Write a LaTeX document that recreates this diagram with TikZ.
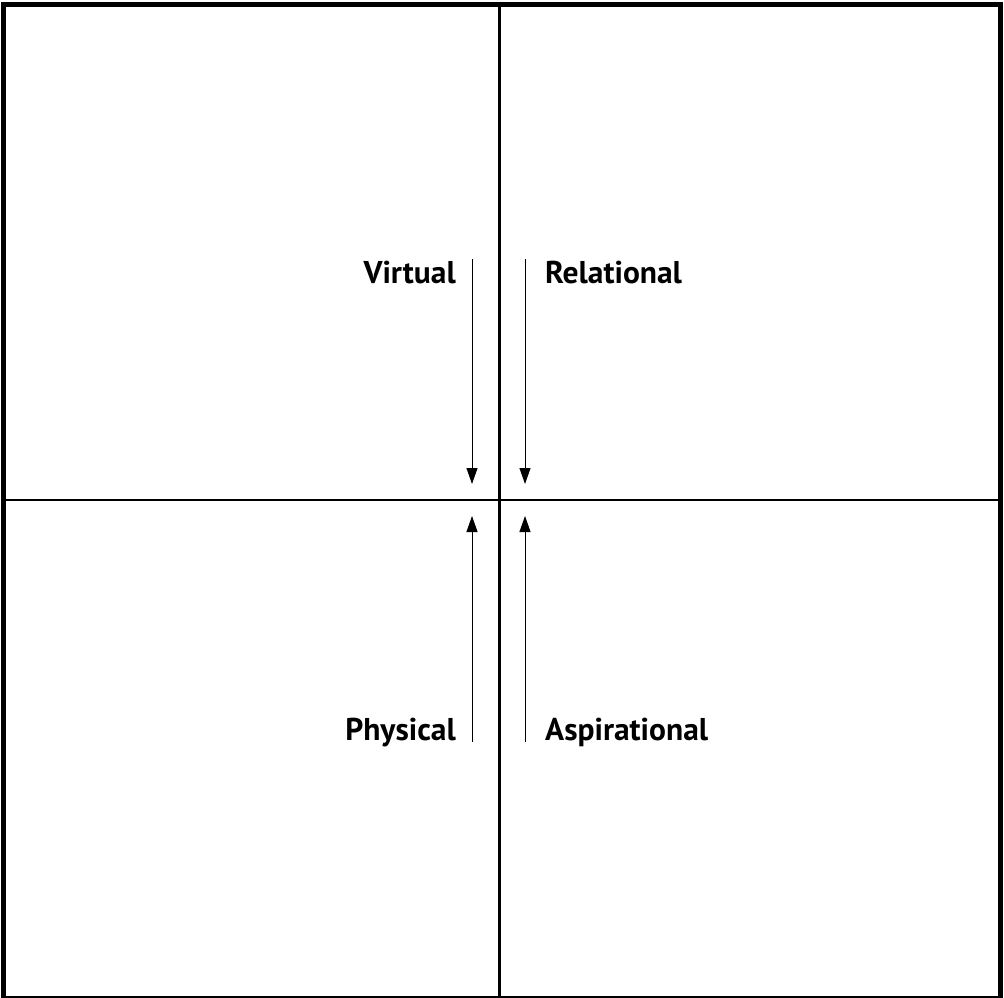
\documentclass[tikz,border=0pt]{standalone}
\usepackage{fontspec}
\setmainfont{PT Sans}
\usetikzlibrary{arrows.meta}
\begin{document}
\begin{tikzpicture}[x=1pt,y=-1pt,
  lbl/.style={font=\bfseries\fontsize{31.5}{34}\selectfont, inner sep=0pt},
  arr/.style={line width=1pt, -{Triangle[length=16pt,width=11pt]}},
  frame/.style={line width=5pt},
  divider/.style={line width=2.6pt}]
\useasboundingbox (0,0) rectangle (1004,998);
\begin{scope}
\clip (0,0) rectangle (1004,998);
\draw[frame] (3.5,4.5) rectangle (1000.5,998.5);
\end{scope}
\draw[divider] (499.5,4.5) -- (499.5,996);
\draw[divider] (3.5,500) -- (1000.5,500);
\coordinate (v1) at (472,259);
\coordinate (v2) at (472,484);
\coordinate (r1) at (525,259);
\coordinate (r2) at (525,484);
\coordinate (p1) at (472,742);
\coordinate (p2) at (472,516);
\coordinate (a1) at (525,742);
\coordinate (a2) at (525,516);
\draw[arr] (v1) -- (v2);
\draw[arr] (r1) -- (r2);
\draw[arr] (p1) -- (p2);
\draw[arr] (a1) -- (a2);
\node[lbl, anchor=base east] (virtual) at (456,283) {Virtual};
\node[lbl, anchor=base west] (relational) at (545,283) {Relational};
\node[lbl, anchor=base east] (physical) at (456,740) {Physical};
\node[lbl, anchor=base west] (aspirational) at (545,740) {Aspirational};
\end{tikzpicture}
\end{document}
